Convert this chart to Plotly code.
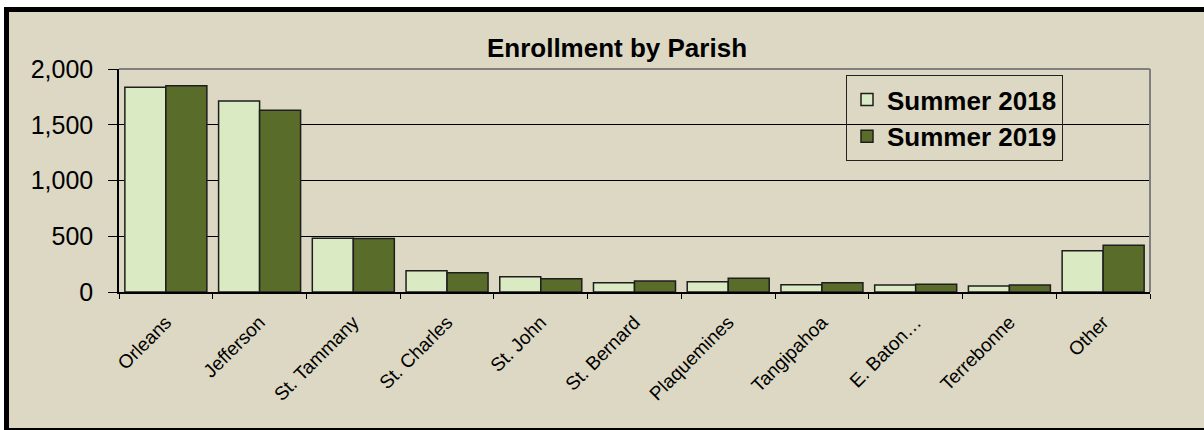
import plotly.graph_objects as go

categories = ["Orleans", "Jefferson", "St. Tammany", "St. Charles", "St. John",
              "St. Bernard", "Plaquemines", "Tangipahoa", "E. Baton…", "Terrebonne", "Other"]
summer_2018 = [1836, 1713, 481, 191, 137, 83, 92, 65, 63, 54, 371]
summer_2019 = [1850, 1629, 480, 173, 119, 99, 123, 83, 69, 63, 419]
y_ticks = [0, 500, 1000, 1500, 2000]

W, H = 1204, 430
L, R, T, B = 119, 1204 - 1150, 69, 430 - 292
PW, PH = W - L - R, H - T - B

def px_x(px):
    return (px - L) / PW

def px_y(py):
    return (H - B - py) / PH

FONT = "Liberation Sans, Arial, sans-serif"
BG = "#DDD8C3"

fig = go.Figure()
fig.add_trace(go.Bar(
    name="<b>Summer 2018</b>", x=categories, y=summer_2018,
    marker=dict(color="#DAEAC2", line=dict(color="#1e1e1e", width=1.5)),
    legendgroup="a",
))
fig.add_trace(go.Bar(
    name="<b>Summer 2019</b>", x=categories, y=summer_2019,
    marker=dict(color="#5A6C2A", line=dict(color="#1e1e1e", width=1.5)),
    legendgroup="b",
))

shapes = [
    dict(type="rect", xref="paper", yref="paper", layer="below",
         x0=px_x(6.5), x1=px_x(1215), y0=px_y(430.5), y1=px_y(9.5),
         fillcolor=BG, line=dict(color="black", width=5)),
    dict(type="line", xref="paper", yref="paper", x0=0, x1=1, y0=1, y1=1,
         line=dict(color="#7f7f7f", width=2)),
    dict(type="line", xref="paper", yref="paper", x0=1, x1=1, y0=0, y1=1,
         line=dict(color="#7f7f7f", width=2)),
]

fig.update_layout(
    width=W, height=H,
    margin=dict(l=L, r=R, t=T, b=B, autoexpand=False),
    paper_bgcolor="white",
    plot_bgcolor="rgba(0,0,0,0)",
    barmode="group", bargap=0.125, bargroupgap=0.0,
    font=dict(family=FONT, color="black"),
    title=dict(text="<b>Enrollment by Parish</b>", x=617 / W, xanchor="center",
               y=1 - 48 / H, yanchor="middle", font=dict(size=26, family=FONT, color="black")),
    shapes=shapes,
    showlegend=True,
    legend=dict(x=px_x(846), y=px_y(75), xanchor="left", yanchor="top",
                bordercolor="#222222", borderwidth=1, bgcolor="rgba(0,0,0,0)",
                font=dict(size=26, family=FONT, color="black"),
                tracegroupgap=10, itemwidth=30, traceorder="normal"),
    xaxis=dict(
        type="category", showline=True, linecolor="black", linewidth=1.5,
        ticks="outside", tickson="boundaries", ticklen=5, tickcolor="black",
        tickangle=-45, tickfont=dict(size=19, family=FONT, color="black"),
        ticklabelstandoff=10,
        showgrid=False, automargin=False,
    ),
    yaxis=dict(
        range=[0, 2000], tickvals=y_ticks, tickformat=",",
        showline=True, linecolor="black", linewidth=1.5,
        ticks="outside", ticklen=9, tickcolor="black",
        showgrid=True, gridcolor="black", gridwidth=1,
        zeroline=False, ticklabelstandoff=10,
        tickfont=dict(size=25, family=FONT, color="black"),
        automargin=False,
    ),
)

fig.write_html("out.html", config={"displayModeBar": False},
               post_script="document.body.style.margin='0';")
